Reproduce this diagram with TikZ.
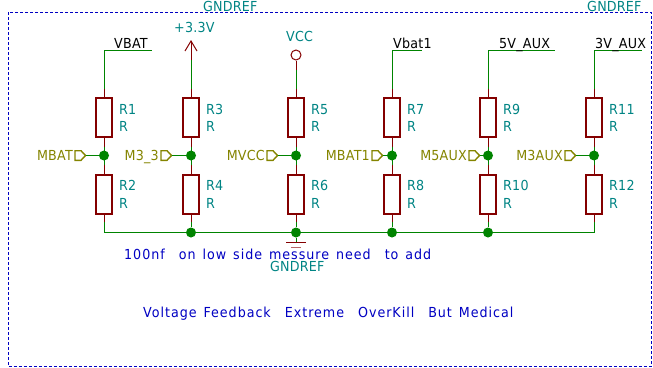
\documentclass[tikz,border=0pt]{standalone}
\usepackage{fontspec}
\setmainfont{DejaVu Sans}
\newfontfamily\lblfont[LetterSpace=1.5,FakeStretch=0.92]{DejaVu Sans}
\newfontfamily\notefont[LetterSpace=7,WordSpace=1.4,FakeStretch=0.92]{DejaVu Sans}
\definecolor{wirec}{HTML}{008400}
\definecolor{pinc}{HTML}{840000}
\definecolor{refc}{HTML}{008484}
\definecolor{flagc}{HTML}{848400}
\definecolor{notec}{HTML}{0000C2}
\tikzset{
  x=1pt,y=-1pt,
  txt/.style={inner sep=0pt,font=\lblfont\fontsize{13.8}{15}\selectfont,anchor=base west},
  ref/.style={txt,text=refc},
  net/.style={txt,text=black},
  flaglabel/.style={txt,text=flagc,anchor=base east},
  note/.style={txt,text=notec,font=\notefont\fontsize{13.8}{15}\selectfont,text depth=0pt},
  res/.style={draw=pinc,line width=1.4pt,fill=white,minimum width=16pt,minimum height=39pt,inner sep=0pt},
  wire/.style={draw=wirec,line width=1pt},
  pin/.style={draw=pinc,line width=1pt},
  dot/.style={circle,fill=wirec,minimum size=10pt,inner sep=0pt},
  flagline/.style={draw=flagc,line width=1.4pt,line join=miter},
  vcc/.style={circle,draw=pinc,line width=1pt,minimum size=10pt,inner sep=0pt},
}
% name x flagleft labelright ref-top ref-bottom flagtext
\newcommand{\DivCol}[7]{%
  \node[res] (#1u) at (#2,117.5) {};
  \node[res] (#1d) at (#2,194.5) {};
  \coordinate (#1p) at (#2,147);
  \coordinate (#1q) at (#2,165);
  \coordinate (#1ft) at (#3+10.5,155.5);
  \draw[pin] (#1u.south) -- (#1p);
  \draw[pin] (#1d.north) -- (#1q);
  \draw[wire] (#1p) -- (#1q);
  \node[dot] (#1j) at (#2,155.5) {};
  \node[ref] (#1ua) at (#2+15,114) {#5};
  \node[ref] (#1ub) at (#2+15,131.5) {R};
  \node[ref] (#1da) at (#2+15,190.5) {#6};
  \node[ref] (#1db) at (#2+15,208) {R};
  \draw[flagline] (#3,150.7) -- (#3+6,150.7) -- (#1ft) -- (#3+6,160.3) -- (#3,160.3) -- cycle;
  \node[flaglabel] (#1l) at (#4,160.5) {#7};
  \draw[wire] (#1ft) -- (#1j);
  \coordinate (#1s) at (#2,222);
  \draw[pin] (#1d.south) -- (#1s);
}
\begin{document}
\begin{tikzpicture}
\useasboundingbox (0,0) rectangle (653,367);
\draw[draw=notec,line width=0.9pt,dash pattern=on 3pt off 2pt] (8,12) rectangle (651.5,366);

\DivCol{a}{104}{75}{73}{R1}{R2}{MBAT}
\DivCol{b}{191}{161}{159}{R3}{R4}{M3\_3}
\DivCol{c}{296}{267}{265}{R5}{R6}{MVCC}
\DivCol{d}{392}{372}{370}{R7}{R8}{MBAT1}
\DivCol{e}{488}{469}{467}{R9}{R10}{M5AUX}
\DivCol{f}{594}{565}{563}{R11}{R12}{M3AUX}

% bottom rail
\node[dot] (bb) at (191,232.5) {};
\node[dot] (cb) at (296,232.5) {};
\node[dot] (db) at (392,232.5) {};
\node[dot] (eb) at (488,232.5) {};
\coordinate (ab) at (104,232.5);
\coordinate (fb) at (594,232.5);
\draw[wire] (as) -- (ab) -- (bb) -- (cb) -- (db) -- (eb) -- (fb) -- (fs);
\draw[wire] (bs) -- (bb);
\draw[wire] (cs) -- (cb);
\draw[wire] (ds) -- (db);
\draw[wire] (es) -- (eb);

% ground
\coordinate (gnd) at (296,242);
\draw[wire] (cb) -- (gnd);
\draw[pin] (286,242) -- (306,242);
\draw[pin,draw opacity=0.6] (291,247) -- (301,247);
\node[ref] (gndb) at (270,271.5) {GNDREF};

% top nets
\coordinate (at) at (104,50); \coordinate (ae) at (152,50);
\coordinate (dt) at (392,50); \coordinate (de) at (422,50);
\coordinate (et) at (488,50); \coordinate (ee) at (555,50);
\coordinate (ft) at (594,50); \coordinate (fe) at (642,50);
\coordinate (ap) at (104,89); \coordinate (dp) at (392,89);
\coordinate (ep) at (488,89); \coordinate (fp) at (594,89);
\draw[pin] (au.north) -- (ap);
\draw[pin] (du.north) -- (dp);
\draw[pin] (eu.north) -- (ep);
\draw[pin] (fu.north) -- (fp);
\draw[wire] (ap) -- (at) -- (ae);
\draw[wire] (dp) -- (dt) -- (de);
\draw[wire] (ep) -- (et) -- (ee);
\draw[wire] (fp) -- (ft) -- (fe);
\node[net] (na) at (114,48) {VBAT};
\node[net] (nd) at (393,48) {Vbat1};
\node[net] (ne) at (499,48) {5V\_AUX};
\node[net] (nf) at (595,48) {3V\_AUX};

% +3.3V
\coordinate (bp) at (191,89);
\coordinate (bw) at (191,60);
\coordinate (bt) at (191,41);
\draw[pin] (bu.north) -- (bp);
\draw[wire] (bp) -- (bw);
\draw[pin] (bw) -- (bt);
\draw[pin] (185,51) -- (bt) -- (197,51);
\node[ref] (n33) at (174,32) {+3.3V};

% VCC
\node[vcc] (vc) at (296,55) {};
\coordinate (cp) at (296,89);
\coordinate (cw) at (296,70);
\draw[pin] (cu.north) -- (cp);
\draw[wire] (cp) -- (cw);
\draw[pin] (cw) -- (vc);
\node[ref] (nvcc) at (286,41) {VCC};

% sheet labels
\node[ref] (g1) at (203,11) {GNDREF};
\node[ref] (g2) at (587,11) {GNDREF};

% notes
\node[note] (n1) at (124,259) {100nf\ \ on low side messure need\ \ to add};
\node[note] (n2) at (143,317) {Voltage Feedback\ \ Extreme\ \ OverKill\ \ But Medical};
\end{tikzpicture}
\end{document}
